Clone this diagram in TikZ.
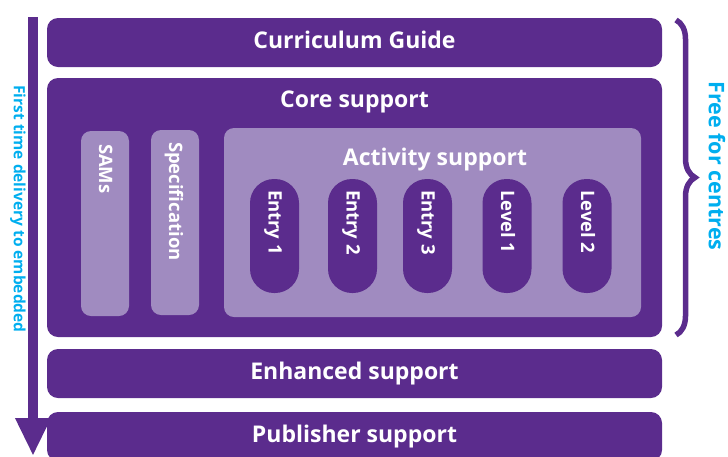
\documentclass[tikz,border=0pt]{standalone}
\usepackage{fontspec}
\setmainfont{Open Sans}
\usetikzlibrary{positioning,calc,arrows.meta,decorations.pathreplacing}

\definecolor{plumdark}{RGB}{91,44,141}
\definecolor{plumlight}{RGB}{160,139,192}
\definecolor{skyblue}{RGB}{0,174,239}

\tikzset{
  band/.style={fill=plumdark, text=white, rounded corners=11pt, inner sep=0pt,
    minimum width=615pt, minimum height=49pt, text height=12pt, text depth=0pt,
    font=\bfseries\fontsize{23}{23}\selectfont},
  panel/.style={fill=plumlight, rounded corners=10pt, inner sep=0pt},
  pill/.style={fill=plumdark, rounded corners=24pt, inner sep=0pt,
    minimum width=49pt, minimum height=114pt},
  heading/.style={text=white, anchor=base, inner sep=0pt,
    font=\bfseries\fontsize{23}{23}\selectfont},
  upright/.style={text=white, rotate=-90, anchor=west, inner sep=0pt,
    text height=12pt, text depth=0pt, font=\bfseries\fontsize{18.5}{18.5}\selectfont},
  sidenote/.style={text=skyblue, rotate=-90, inner sep=0pt,
    font=\bfseries\fontsize{21.5}{21.5}\selectfont},
}

\begin{document}
\begin{tikzpicture}[x=1pt,y=-1pt]
  \clip (0,0) rectangle (728,456);
  % stacked support bands
  \node[band] (guide) at (354.5,42.5) {Curriculum Guide};
  \node[band, minimum height=259pt] (core) at (354.5,207.5) {};
  \node[band] (enhanced) at (354.5,373.5) {Enhanced support};
  \node[band] (publisher) at (354.5,436.5) {Publisher support};
  \node[heading] (coretitle) at (354.5,107) {Core support};

  % resources inside core support
  \node[panel, minimum width=48pt, minimum height=185pt] (sams) at (105,223.5) {};
  \node[panel, minimum width=48pt, minimum height=185pt] (spec) at (175,222.5) {};
  \node[panel, minimum width=417pt, minimum height=189pt] (activity) at (432.5,222.5) {};
  \node[upright] (samstext) at ([yshift=-13pt]sams.north) {SAMs};
  \node[upright] (spectext) at ([yshift=-12pt]spec.north) {Specification};
  \node[heading] (acttitle) at (435,165) {Activity support};
  \foreach \px/\lbl [count=\i] in {274.5/Entry 1, 352.5/Entry 2, 427.5/Entry 3, 507/Level 1, 587/Level 2}{
    \node[pill] (stage\i) at (\px,236) {};
    \node[upright] (stagetext\i) at ([yshift=-11pt]stage\i.north) {\lbl};
  }

  % delivery arrow on the left
  \coordinate (arrtop) at (33,17);
  \coordinate (arrend) at (33,456);
  \draw[plumdark, line width=10pt, -{Triangle[width=33pt,length=38pt]}] (arrtop) -- (arrend);
  \node[sidenote, font=\bfseries\fontsize{15.5}{15.5}\selectfont] (delivery) at (18,209) {First time delivery to embedded};

  % brace over the free tiers
  \coordinate (bracetop) at (676,20);
  \coordinate (bracebot) at (676,335);
  \draw[plumdark, line width=5.5pt, decorate, decoration={brace, amplitude=19pt}] (bracetop) -- (bracebot);
  \node[sidenote] (free) at (717,166) {Free for centres};
\end{tikzpicture}
\end{document}
